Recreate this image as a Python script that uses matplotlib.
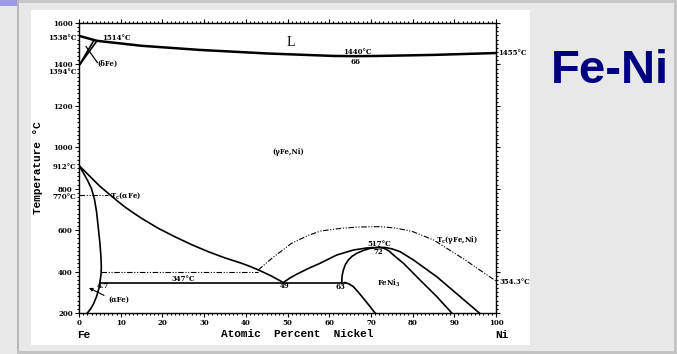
import numpy as np
import matplotlib
matplotlib.use('Agg')
import matplotlib.pyplot as plt
from matplotlib.patches import Rectangle

liq_x = [0, 4.3, 15, 29, 45, 61, 66, 72, 85, 100]
liq_t = [1538, 1514, 1490, 1470, 1453, 1441, 1440, 1441, 1446, 1455]

delta_a_x = [0, 3.5]
delta_b_x = [0, 4.3]
delta_t = [1394, 1514]

alpha_x = [0, 1, 2, 3, 3.7, 4.2, 4.6, 5.0, 5.2, 5.3, 5.35, 5.3, 5.1, 4.8, 4.2, 3.5, 2.8, 2.0]
alpha_t = [912, 878, 842, 800, 750, 690, 617, 540, 490, 456, 420, 390, 360, 320, 279, 245, 220, 200]

gamma_x = [0, 1.5, 3.5, 5, 7, 9, 11, 13, 15, 19, 23, 27, 31, 35, 39, 41, 43, 46, 49]
gamma_t = [912, 882, 842, 812, 778, 744, 712, 684, 657, 609, 568, 530, 496, 466, 440, 425, 408, 380, 347]

eut_x = [5.0, 63.8]
eut_t = [347, 347]

ni3_low_x = [63.8, 64.8, 65.8, 67.0, 68.2, 69.6, 71.0]
ni3_low_t = [347, 340, 327, 300, 271, 236, 200]

ni3_left_x = [63.0, 63.1, 63.4, 63.9, 64.6, 65.5, 66.6, 68.2, 69.8, 72]
ni3_left_t = [347, 380, 408, 435, 456, 474, 488, 502, 512, 517]

gam_left_x = [49, 50.5, 52, 55, 57.8, 61.8, 65.8, 69, 72]
gam_left_t = [347, 368, 385, 415, 440, 480, 504, 514, 517]

ni3_right_x = [72, 73.2, 74.3, 75.4, 77.8, 81.8, 85.8, 89.4]
ni3_right_t = [517, 512, 500, 480, 440, 359, 279, 200]

gam_right_x = [72, 73.5, 75, 77, 80.2, 85.8, 91.4, 96.0]
gam_right_t = [517, 516, 510, 496, 456, 375, 279, 200]

tc_a_x = [0, 7]
tc_a_t = [770, 770]
tc_mix_x = [5.3, 43]
tc_mix_t = [400, 400]

tc_g_x = [43, 46, 51, 55, 58, 63, 67, 72, 76, 80, 85, 92, 100]
tc_g_t = [408, 460, 537, 575, 596, 609, 615, 617, 610, 593, 553, 464, 354.3]

W, H = 677, 354
fig = plt.figure(figsize=(W / 100, H / 100), dpi=100, facecolor='#e8e8e8')


def px_rect(x0, y0, x1, y1, color):
    # rectangulo en pixeles de la imagen (origen arriba a la izquierda)
    fig.add_artist(Rectangle((x0 / W, 1 - y1 / H), (x1 - x0) / W, (y1 - y0) / H,
                             transform=fig.transFigure, color=color, lw=0, zorder=0))


# marco de la diapositiva
px_rect(0, 0, W, 3, '#c8c8c8')
px_rect(17, 0, 19, 353, '#b8b8b8')
px_rect(17, 351, W, 354, '#c4c4c4')
px_rect(674, 0, W, 354, '#c4c4c4')
px_rect(0, 0, 17, 6, '#9a9ae6')
px_rect(31, 10, 530, 345, 'white')

ax = fig.add_axes([79 / W, 1 - 313 / H, (496 - 79) / W, (313 - 23) / H])
ax.set_facecolor('white')

ser = 'DejaVu Serif'
k = 'black'
ax.plot(liq_x, liq_t, color=k, lw=1.8)
ax.plot(delta_a_x, delta_t, color=k, lw=1.2)
ax.plot(delta_b_x, delta_t, color=k, lw=1.2)
ax.plot([1.7, 4.4], [1486, 1409], color=k, lw=0.9)
ax.plot(alpha_x, alpha_t, color=k, lw=1.2)
ax.plot(gamma_x, gamma_t, color=k, lw=1.2)
ax.plot(eut_x, eut_t, color=k, lw=1.2)
ax.plot(ni3_low_x, ni3_low_t, color=k, lw=1.2)
ax.plot(ni3_left_x, ni3_left_t, color=k, lw=1.2)
ax.plot(gam_left_x, gam_left_t, color=k, lw=1.2)
ax.plot(ni3_right_x, ni3_right_t, color=k, lw=1.2)
ax.plot(gam_right_x, gam_right_t, color=k, lw=1.2)

dd = (0, (5, 1.5, 1, 1.5, 1, 1.5))
ax.plot(tc_a_x, tc_a_t, color=k, lw=0.8, ls=dd)
ax.plot(tc_mix_x, tc_mix_t, color=k, lw=0.8, ls=dd)
ax.plot(tc_g_x, tc_g_t, color=k, lw=0.8, ls=dd)

ax.annotate('', xy=(1.8, 327), xytext=(6.6, 279),
            arrowprops=dict(arrowstyle='-|>', color=k, lw=0.8, mutation_scale=5))

ax.set_xlim(0, 100)
ax.set_ylim(200, 1600)
ax.set_xticks(range(0, 101, 10))
ax.set_yticks(range(200, 1601, 200))
ax.set_xticks(range(0, 101, 1), minor=True)
ax.set_yticks(range(200, 1601, 20), minor=True)
ax.tick_params(which='both', direction='out', top=True, right=True, width=0.8)
ax.tick_params(which='major', length=3, pad=1.5)
ax.tick_params(which='minor', length=1.5)
ax.tick_params(labelsize=5)
for lab in ax.get_xticklabels() + ax.get_yticklabels():
    lab.set_fontfamily(ser)
    lab.set_fontweight('bold')
for s in ax.spines.values():
    s.set_linewidth(1.0)

# textos del diagrama
tk = dict(fontfamily=ser, fontweight='bold', fontsize=5, color=k, clip_on=False)
ax.text(50.8, 1506, 'L', fontfamily='Liberation Serif', fontsize=10, ha='center', va='center')
ax.text(66.8, 1460, '1440°C', ha='center', va='center', **tk)
ax.text(66.2, 1412, '66', ha='center', va='center', **tk)
ax.text(100.5, 1454, '1455°C', ha='left', va='center', **tk)
ax.text(-0.6, 1530, '1538°C', ha='right', va='center', **tk)
ax.text(5.5, 1528, '1514°C', ha='left', va='center', **tk)
ax.text(4.4, 1405, '(δFe)', ha='left', va='center', **tk)
ax.text(-0.6, 1364, '1394°C', ha='right', va='center', **tk)
ax.text(50.1, 977, '(γFe,Ni)', ha='center', va='center', **tk)
ax.text(-0.6, 905, '912°C', ha='right', va='center', **tk)
ax.text(-0.6, 758, '770°C', ha='right', va='center', **tk)
ax.text(7.4, 765, 'T$_\\mathregular{c}$(αFe)', ha='left', va='center', **tk)
ax.text(25.1, 364, '347°C', ha='center', va='center', **tk)
ax.text(4.3, 330, '4.7', ha='left', va='center', **tk)
ax.text(49.2, 330, '49', ha='center', va='center', **tk)
ax.text(62.6, 326, '63', ha='center', va='center', **tk)
ax.text(71.9, 533, '517°C', ha='center', va='center', **tk)
ax.text(71.9, 494, '72', ha='center', va='center', **tk)
ax.text(74.2, 345, 'FeNi$_\\mathregular{3}$', ha='center', va='center', **tk)
ax.text(85.6, 550, 'T$_\\mathregular{c}$(γFe,Ni)', ha='left', va='center', **tk)
ax.text(100.9, 350, '354.3°C', ha='left', va='center', **tk)
ax.text(7.0, 263, '(αFe)', ha='left', va='center', **tk)

mono = dict(fontfamily='Liberation Mono', fontweight='bold', fontsize=8, color=k)
fig.text(297 / W, 1 - 334 / H, 'Atomic  Percent  Nickel', ha='center', va='center', **mono)
fig.text(84 / W, 1 - 335 / H, 'Fe', ha='center', va='center', **mono)
fig.text(502 / W, 1 - 335 / H, 'Ni', ha='center', va='center', **mono)
fig.text(38 / W, 1 - 168 / H, 'Temperature °C', ha='center', va='center', rotation=90, **mono)

fig.text(610 / W, 1 - 71 / H, 'Fe-Ni', ha='center', va='center', fontfamily='Liberation Sans',
         fontweight='bold', fontsize=34, color='#000080')

fig.savefig('out.png', dpi=100, facecolor=fig.get_facecolor())
